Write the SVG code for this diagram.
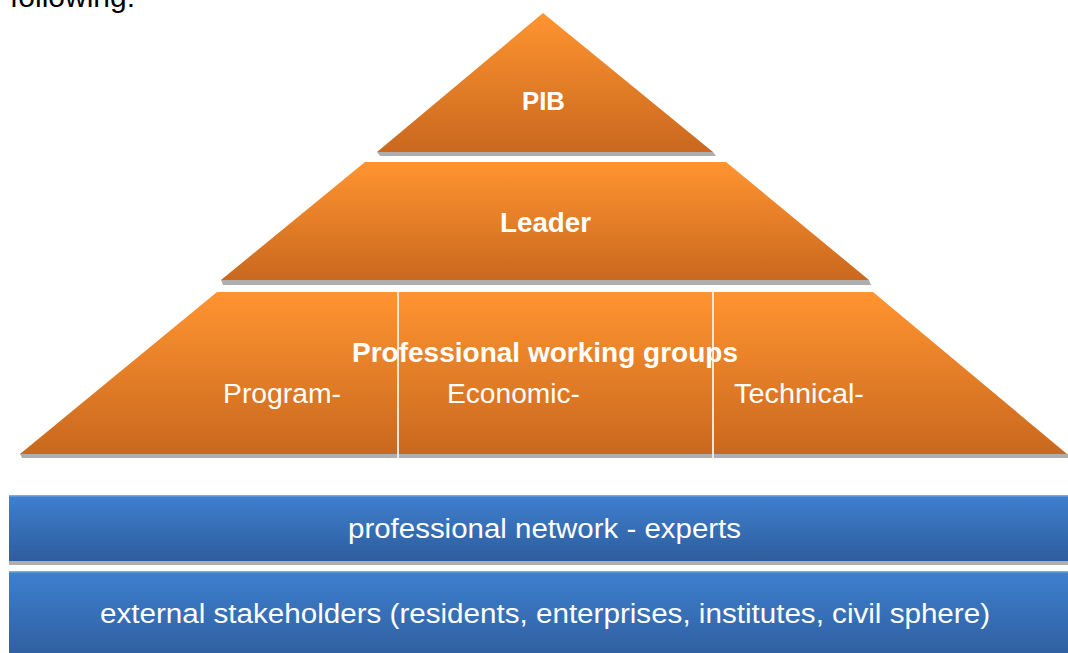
<svg xmlns="http://www.w3.org/2000/svg" width="1068" height="653" viewBox="0 0 1068 653">
<defs>
<linearGradient id="og" x1="0" y1="0" x2="0" y2="1">
<stop offset="0" stop-color="#FF9430"/>
<stop offset="1" stop-color="#C9681E"/>
</linearGradient>
<linearGradient id="bg" x1="0" y1="0" x2="0" y2="1">
<stop offset="0" stop-color="#3E80D0"/>
<stop offset="1" stop-color="#2E5D9C"/>
</linearGradient>
<style>
.sh{fill:#9a9a9a;opacity:0.8}
.o{fill:url(#og)}
.b{fill:url(#bg)}
.t{font-family:"Liberation Sans",Arial,sans-serif;fill:#ffffff;text-anchor:middle}
.bold{font-weight:bold}
.div{stroke:#f4e6d8;stroke-width:2}
</style>
</defs>
<rect width="1068" height="653" fill="#ffffff"/>
<text x="10" y="7" font-family="Liberation Sans, Arial, sans-serif" font-size="30" fill="#000000">following:</text>
<g id="pib">
<polygon class="sh" points="377,152 713,152 716,156 380,156"/>
<polygon class="o" points="543,13 713,152 377,152"/>
<text class="t bold" x="543.5" y="110" font-size="25" textLength="43" lengthAdjust="spacingAndGlyphs">PIB</text>
</g>
<g id="leader">
<polygon class="sh" points="221,280 869,280 871,285 223,285"/>
<polygon class="o" points="365,162 726,162 869,280 221,280"/>
<text class="t bold" x="545.5" y="232" font-size="27" textLength="91" lengthAdjust="spacingAndGlyphs">Leader</text>
</g>
<g id="working-groups">
<polygon class="sh" points="20,454 1068,454 1068,458 22,458"/>
<polygon class="o" points="217,292 873,292 1067,454 20,454"/>
<line class="div" x1="398" y1="292" x2="398" y2="458"/>
<line class="div" x1="713" y1="292" x2="713" y2="458"/>
<text class="t bold" x="545" y="362" font-size="28" textLength="386" lengthAdjust="spacingAndGlyphs">Professional working groups</text>
<text class="t" x="282" y="403" font-size="27" textLength="118" lengthAdjust="spacingAndGlyphs">Program-</text>
<text class="t" x="513.5" y="403" font-size="27" textLength="133" lengthAdjust="spacingAndGlyphs">Economic-</text>
<text class="t" x="799" y="403" font-size="27" textLength="130" lengthAdjust="spacingAndGlyphs">Technical-</text>
</g>
<g id="professional-network">
<rect class="sh" x="9" y="561" width="1059" height="4"/>
<rect class="b" x="9" y="495" width="1059" height="66"/>
<rect x="9" y="495" width="1059" height="1.5" fill="#7fa9df"/>
<text class="t" x="544.5" y="538" font-size="27" textLength="393" lengthAdjust="spacingAndGlyphs">professional network - experts</text>
</g>
<g id="external-stakeholders">
<rect class="b" x="9" y="571" width="1059" height="90"/>
<rect x="9" y="571" width="1059" height="1.5" fill="#7fa9df"/>
<text class="t" x="545" y="623" font-size="27" textLength="890" lengthAdjust="spacingAndGlyphs">external stakeholders (residents, enterprises, institutes, civil sphere)</text>
</g>
<g id="connectors"/>
</svg>
